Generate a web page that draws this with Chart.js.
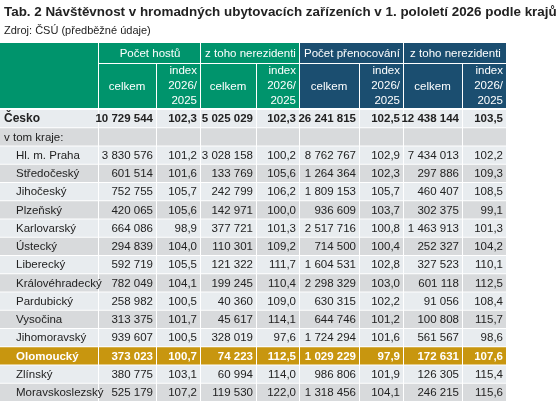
<!DOCTYPE html>
<html><head><meta charset="utf-8">
<script src="https://cdn.jsdelivr.net/npm/chart.js@4"></script>
<style>body{margin:0;background:#fff}canvas{display:block}</style>
</head><body>
<canvas id="tab" width="557" height="401"></canvas>
<script>
// Table data
const rows = ['Česko', 'v tom kraje:', 'Hl. m. Praha', 'Středočeský', 'Jihočeský', 'Plzeňský', 'Karlovarský', 'Ústecký', 'Liberecký', 'Královéhradecký', 'Pardubický', 'Vysočina', 'Jihomoravský', 'Olomoucký', 'Zlínský', 'Moravskoslezský'];
const hosteCelkem = [10729544, null, 3830576, 601514, 752755, 420065, 664086, 294839, 592719, 782049, 258982, 313375, 939607, 373023, 380775, 525179];
const hosteIndex = [102.3, null, 101.2, 101.6, 105.7, 105.6, 98.9, 104.0, 105.5, 104.1, 100.5, 101.7, 100.5, 100.7, 103.1, 107.2];
const hosteNerez = [5025029, null, 3028158, 133769, 242799, 142971, 377721, 110301, 121322, 199245, 40360, 45617, 328019, 74223, 60994, 119530];
const hosteNerezIndex = [102.3, null, 100.2, 105.6, 106.2, 100.0, 101.3, 109.2, 111.7, 110.4, 109.0, 114.1, 97.6, 112.5, 114.0, 122.0];
const nocCelkem = [26241815, null, 8762767, 1264364, 1809153, 936609, 2517716, 714500, 1604531, 2298329, 630315, 644746, 1724294, 1029229, 986806, 1318456];
const nocIndex = [102.5, null, 102.9, 102.3, 105.7, 103.7, 100.8, 100.4, 102.8, 103.0, 102.2, 101.2, 101.6, 97.9, 101.9, 104.1];
const nocNerez = [12438144, null, 7434013, 297886, 460407, 302375, 1463913, 252327, 327523, 601118, 91056, 100808, 561567, 172631, 126305, 246215];
const nocNerezIndex = [103.5, null, 102.2, 109.3, 108.5, 99.1, 101.3, 104.2, 110.1, 112.5, 108.4, 115.7, 98.6, 107.6, 115.4, 115.6];
const groupLabels = ['Počet hostů', 'z toho nerezidenti', 'Počet přenocování', 'z toho nerezidenti'];

const columns = [hosteCelkem, hosteIndex, hosteNerez, hosteNerezIndex, nocCelkem, nocIndex, nocNerez, nocNerezIndex];
const colEdges = [0, 98, 156, 200, 256, 299, 359, 403, 462, 506];
const highlight = 'Olomoucký';

const fmt = (v, i) => {
  if (v == null) return '';
  if (i % 2) return v.toFixed(1).replace('.', ',');
  return String(v).replace(/\B(?=(\d{3})+(?!\d))/g, ' ');
};

const tablePlugin = {
  id: 'table',
  afterDraw(chart) {
    const ctx = chart.ctx;
    const x = chart.scales.x, y = chart.scales.y;
    const band = (chart.chartArea.bottom - chart.chartArea.top) / rows.length;
    const px = v => x.getPixelForValue(v);
    ctx.save();
    ctx.textBaseline = 'middle';
    // title
    ctx.fillStyle = '#222';
    ctx.font = 'bold 13.4px "Liberation Sans", Arial';
    ctx.textAlign = 'left';
    ctx.fillText('Tab. 2 Návštěvnost v hromadných ubytovacích zařízeních v 1. pololetí 2026 podle krajů', 4, 12);
    ctx.font = '11px "Liberation Sans", Arial';
    ctx.fillText('Zdroj: ČSÚ (předběžné údaje)', 4, 31);
    // header
    const hTop = 43, hMid = 63, hBot = 108;
    const green = '#00946c', blue = '#1b4e70';
    ctx.fillStyle = green;
    ctx.fillRect(px(colEdges[0]), hTop, px(colEdges[1]) - px(colEdges[0]), hBot - hTop);
    for (let g = 0; g < 4; g++) {
      const c = g < 2 ? green : blue;
      const x0 = px(colEdges[1 + g * 2]), x1 = px(colEdges[3 + g * 2]), xm = px(colEdges[2 + g * 2]);
      ctx.fillStyle = c;
      ctx.fillRect(x0 + 1, hTop, x1 - x0 - 1, hMid - hTop);
      ctx.fillRect(x0 + 1, hMid + 1, xm - x0 - 1, hBot - hMid - 1);
      ctx.fillRect(xm + 1, hMid + 1, x1 - xm - 1, hBot - hMid - 1);
      ctx.fillStyle = '#fff';
      ctx.font = '11.5px "Liberation Sans", Arial';
      ctx.textAlign = 'center';
      ctx.fillText(groupLabels[g], (x0 + x1) / 2 + 1, (hTop + hMid) / 2 + 1);
      ctx.fillText('celkem', (x0 + xm) / 2, (hMid + hBot) / 2 + 1);
      ctx.textAlign = 'right';
      ['index', '2026/', '2025'].forEach((t, k) => ctx.fillText(t, x1 - 3, hMid + 8 + k * 15));
    }
    // rows
    rows.forEach((r, i) => {
      const yc = y.getPixelForValue(i);
      const top = yc - band / 2;
      const hi = r === highlight;
      const bg = hi ? '#c8960f' : (i % 2 ? '#d8dadc' : '#e8ecef');
      for (let c = 0; c < colEdges.length - 1; c++) {
        const x0 = px(colEdges[c]) + (c ? 1 : 0), x1 = px(colEdges[c + 1]);
        ctx.fillStyle = bg;
        ctx.fillRect(x0, top + 1, x1 - x0, band - 1);
      }
      const bold = i === 0 || hi;
      ctx.fillStyle = hi ? '#fff' : '#222';
      ctx.font = (bold ? 'bold ' : '') + (i === 0 ? '12px' : '11.5px') + ' "Liberation Sans", Arial';
      ctx.textAlign = 'left';
      ctx.fillText(r, i < 2 ? 4 : 16, yc + 1);
      ctx.font = (bold ? 'bold ' : '') + '11.5px "Liberation Sans", Arial';
      ctx.textAlign = 'right';
      columns.forEach((col, c) => ctx.fillText(fmt(col[i], c), px(colEdges[c + 2]) - 3, yc + 1));
    });
    ctx.restore();
  }
};

new Chart(document.getElementById('tab'), {
  type: 'scatter',
  data: { labels: rows, datasets: [{ data: [] }] },
  options: {
    responsive: false,
    animation: false,
    layout: { padding: { top: 109, left: 0, right: 0, bottom: 0 } },
    plugins: { legend: { display: false }, tooltip: { enabled: false } },
    scales: {
      x: { type: 'linear', min: 0, max: 557, display: false },
      y: { type: 'category', labels: rows, offset: true, display: false }
    }
  },
  plugins: [tablePlugin]
});
</script>
</body></html>
